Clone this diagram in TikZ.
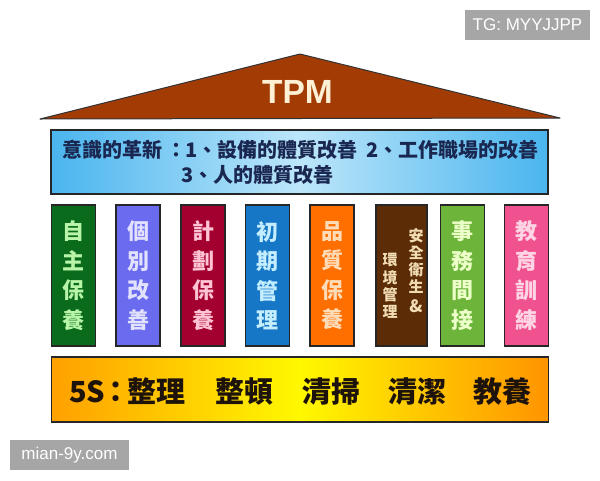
\documentclass[tikz,border=0pt]{standalone}
\usepackage{fontspec}
\setmainfont{Liberation Sans}
\newfontfamily\cjk{Noto Sans CJK TC}
\definecolor{roofc}{HTML}{A33C04}
\definecolor{tpmc}{HTML}{FDF0D4}
\definecolor{navy}{HTML}{1A2750}
\definecolor{bluel}{HTML}{BCE6FA}
\definecolor{blued}{HTML}{4AB5EE}
\definecolor{wmgray}{HTML}{A6A6A6}
\definecolor{f1}{HTML}{0B6B1C}\definecolor{t1}{HTML}{B8F5A8}
\definecolor{f2}{HTML}{6B6BEF}\definecolor{t2}{HTML}{E2E2FF}
\definecolor{f3}{HTML}{A3002F}\definecolor{t3}{HTML}{FFC4D4}
\definecolor{f4}{HTML}{1577C6}\definecolor{t4}{HTML}{C4EEFF}
\definecolor{f5}{HTML}{FF6F00}\definecolor{t5}{HTML}{FFDCB8}
\definecolor{f6}{HTML}{5B2C05}\definecolor{t6}{HTML}{F2DCB4}
\definecolor{f7}{HTML}{6DB53A}\definecolor{t7}{HTML}{ECFFC8}
\definecolor{f8}{HTML}{F0528F}\definecolor{t8}{HTML}{FFD4E4}
\definecolor{yo}{HTML}{FFA000}
\definecolor{yy}{HTML}{FFF800}
\definecolor{yr}{HTML}{FF9400}
\begin{document}
\begin{tikzpicture}[x=1pt,y=-1pt,
  pillar/.style={draw=black!85, line width=1.2pt, minimum width=44pt, minimum height=141pt,
    inner sep=0pt, align=center, font=\cjk\bfseries\fontsize{22}{29.5}\selectfont},
  band/.style={draw=black!85, line width=1.3pt, minimum width=497pt, inner sep=0pt},
  btext/.style={anchor=base west, inner sep=0pt, text=navy, font=\cjk\bfseries\fontsize{20}{24}\selectfont},
  stext/.style={anchor=base, inner sep=0pt, text=black!85!brown, font=\cjk\bfseries\fontsize{29}{32}\selectfont},
  ctext/.style={inner sep=0pt, align=center},
  wm/.style={fill=wmgray, text=white, inner sep=0pt, font=\fontsize{17}{20}\selectfont}]
\useasboundingbox (0,0) rectangle (600,480);
\fill[white] (0,0) rectangle (600,480);
% roof
\draw[fill=roofc, draw=black!80, line width=1pt, line join=round] (40,119) -- (300,54) -- (560,118) -- cycle;
\node[anchor=base, inner sep=0pt, text=tpmc, font=\bfseries\fontsize{33.5}{36}\selectfont] (tpm) at (297.5,103) {TPM};
% blue band
\node[band, minimum height=64pt, left color=blued, right color=blued, middle color=bluel] (blue) at (299.5,162) {};
\node[btext] (b1) at (62,157.5) {意識的革新};
\node[btext, anchor=base] (b2) at (176,157.5) {：};
\node[btext] (b3) at (185,157.5) {1、設備的體質改善};
\node[btext] (b4) at (366,157.5) {2、工作職場的改善};
\node[btext] (b5) at (181,182.5) {3、人的體質改善};
% pillars
\node[pillar, fill=f1, text=t1] (p1) at (73.4,275.5) {自\\主\\保\\養};
\node[pillar, fill=f2, text=t2] (p2) at (138,275.5) {個\\別\\改\\善};
\node[pillar, fill=f3, text=t3] (p3) at (203,275.5) {計\\劃\\保\\養};
\node[pillar, fill=f4, text=t4] (p4) at (267.4,275.5) {初\\期\\管\\理};
\node[pillar, fill=f5, text=t5] (p5) at (332,275.5) {品\\質\\保\\養};
\node[pillar, fill=f6, minimum width=51pt] (p6) at (401.5,275.5) {};
\node[pillar, fill=f7, text=t7] (p7) at (462.5,275.5) {事\\務\\間\\接};
\node[pillar, fill=f8, text=t8] (p8) at (526.5,275.5) {教\\育\\訓\\練};
\node[ctext, text=t6, font=\cjk\bfseries\fontsize{15}{16.7}\selectfont] (p6r) at (416,271) {安\\全\\衛\\生\\[4pt]{\fontsize{17}{17}\selectfont\bfseries\&}};
\node[ctext, text=t6, font=\cjk\bfseries\fontsize{15}{17.3}\selectfont] (p6l) at (390,286) {環\\境\\管\\理};
% yellow band
\node[band, minimum height=65pt, left color=yo, right color=yr, middle color=yy] (yellow) at (300.3,389.5) {};
\node[stext, anchor=base west] (s0) at (69,402.5) {5S};
\node[stext] (sc) at (116,402.5) {：};
\node[stext] (s1) at (156,402.5) {整理};
\node[stext] (s2) at (244,402.5) {整頓};
\node[stext] (s3) at (331,402.5) {清掃};
\node[stext] (s4) at (417,402.5) {清潔};
\node[stext] (s5) at (502,402.5) {教養};
% watermarks
\node[wm, minimum width=125pt, minimum height=30pt] (tg) at (527.5,25) {TG: MYYJJPP};
\node[wm, minimum width=119pt, minimum height=30pt] (mian) at (69.5,455) {mian-9y.com};
\end{tikzpicture}
\end{document}
